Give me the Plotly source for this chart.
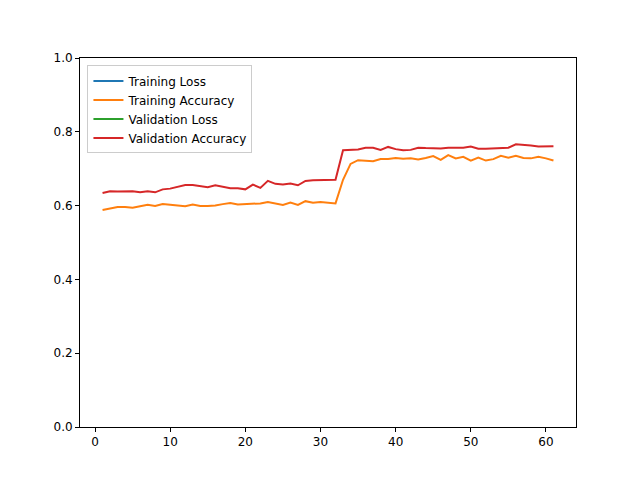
import plotly.graph_objects as go

epochs = list(range(1, 62))
train_acc = [0.588, 0.593, 0.596, 0.596, 0.594, 0.598, 0.602, 0.599, 0.604, 0.602,
             0.599, 0.598, 0.603, 0.599, 0.599, 0.600, 0.604, 0.607, 0.603, 0.604,
             0.607, 0.606, 0.610, 0.607, 0.602, 0.608, 0.602, 0.612, 0.608, 0.610,
             0.608, 0.606, 0.670, 0.713, 0.723, 0.721, 0.720, 0.726, 0.726, 0.729,
             0.727, 0.728, 0.725, 0.729, 0.734, 0.724, 0.737, 0.728, 0.732, 0.722,
             0.730, 0.722, 0.726, 0.735, 0.730, 0.735, 0.729, 0.728, 0.732, 0.728, 0.722]
val_acc = [0.634, 0.639, 0.638, 0.639, 0.639, 0.636, 0.639, 0.636, 0.644, 0.646,
           0.651, 0.656, 0.656, 0.652, 0.650, 0.655, 0.650, 0.647, 0.647, 0.644,
           0.657, 0.648, 0.667, 0.659, 0.657, 0.660, 0.655, 0.667, 0.669, 0.669,
           0.670, 0.670, 0.750, 0.750, 0.752, 0.757, 0.757, 0.751, 0.759, 0.753,
           0.750, 0.751, 0.757, 0.756, 0.755, 0.755, 0.757, 0.757, 0.757, 0.760,
           0.754, 0.754, 0.755, 0.757, 0.757, 0.766, 0.765, 0.763, 0.760, 0.760, 0.761]
# loss curves are not visible in the 0-1 range; only their legend entries show
train_loss = [None]
val_loss = [None]

fig = go.Figure()
fig.add_trace(go.Scatter(x=[1], y=train_loss, name='Training Loss', mode='lines', line=dict(color='#1f77b4', width=2)))
fig.add_trace(go.Scatter(x=epochs, y=train_acc, name='Training Accuracy', mode='lines', line=dict(color='#ff7f0e', width=2)))
fig.add_trace(go.Scatter(x=[1], y=val_loss, name='Validation Loss', mode='lines', line=dict(color='#2ca02c', width=2)))
fig.add_trace(go.Scatter(x=epochs, y=val_acc, name='Validation Accuracy', mode='lines', line=dict(color='#d62728', width=2)))

axis = dict(showgrid=False, zeroline=False, showline=True, linecolor='black', mirror=True,
            ticks='outside', ticklen=4, tickcolor='black', tickfont=dict(size=12, color='black'))
fig.update_layout(
    width=640, height=480, plot_bgcolor='white', paper_bgcolor='white',
    margin=dict(l=72, r=72, t=50, b=61),
    font=dict(family='DejaVu Sans', size=12, color='black'),
    xaxis=dict(range=[-2, 64], tickvals=[0, 10, 20, 30, 40, 50, 60], **axis),
    yaxis=dict(range=[0, 1], tickvals=[0, 0.2, 0.4, 0.6, 0.8, 1.0], tickformat='.1f', **axis),
    legend=dict(x=0.015, y=0.98, xanchor='left', yanchor='top', bgcolor='rgba(255,255,255,0.8)',
                bordercolor='#cccccc', borderwidth=1, font=dict(size=12)),
    showlegend=True,
)
fig.write_html("out.html")
